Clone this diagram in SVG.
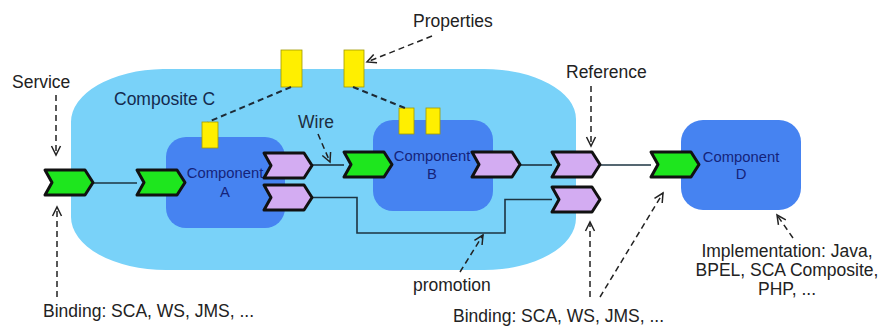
<svg xmlns="http://www.w3.org/2000/svg" width="880" height="327" viewBox="0 0 880 327">
<defs>
<style>
.lbl{font-family:"Liberation Sans",Arial,sans-serif;font-size:17.5px;fill:#222}
.cl{font-family:"Liberation Sans",Arial,sans-serif;font-size:14.8px;fill:#15237a;text-anchor:middle}
.comp{fill:#4683f1}
.svc{fill:#1ee61e;stroke:#111;stroke-width:3;stroke-linejoin:round}
.ref{fill:#d3acf2;stroke:#111;stroke-width:3;stroke-linejoin:round}
.prop{fill:#ffef00;stroke:#a09a00;stroke-width:0.8}
.wire{fill:none;stroke:#1d3442;stroke-width:1.6}
.dash{fill:none;stroke:#222;stroke-width:1.5;stroke-dasharray:6 4}
.pdash{fill:none;stroke:#1d2a36;stroke-width:2;stroke-dasharray:6 4}
</style>
<path id="chev" d="M0,0 H40 L48,12.5 L40,25 H0 L7,12.5 Z"/>
<marker id="arr" viewBox="-10 -6 12 12" refX="0" refY="0" markerWidth="12" markerHeight="12" markerUnits="userSpaceOnUse" orient="auto">
<path d="M-9,-4.5 L0,0 L-9,4.5" fill="none" stroke="#222" stroke-width="1.5"/>
</marker>
</defs>

<g id="compositeC">
<path d="M163,69 H484 A92,50 0 0 1 576,119 V218 A92,52 0 0 1 484,270 H166 A95,53 0 0 1 71,217 V122 A95,53 0 0 1 163,69 Z" fill="#79d2f9"/>
<text class="lbl" x="114" y="105" style="fill:#142a4e">Composite C</text>
<rect class="prop" x="281" y="50" width="21" height="37"/>
<rect class="prop" x="344" y="50" width="20" height="37"/>
</g>

<g id="componentA">
<rect class="comp" x="166" y="137" width="119" height="91" rx="20" ry="20"/>
<rect class="prop" x="202" y="122" width="16" height="26"/>
<text class="cl" x="225" y="178">Component</text>
<text class="cl" x="225" y="197">A</text>
</g>

<g id="componentB">
<rect class="comp" x="373" y="120" width="120" height="91" rx="20" ry="20"/>
<rect class="prop" x="399" y="108" width="15" height="26"/>
<rect class="prop" x="426" y="108" width="14" height="26"/>
<text class="cl" x="432" y="161">Component</text>
<text class="cl" x="432" y="179">B</text>
</g>

<g id="componentD">
<rect class="comp" x="681" y="120" width="120" height="90" rx="22" ry="22"/>
<text class="cl" x="741" y="162">Component</text>
<text class="cl" x="741" y="179">D</text>
</g>

<g id="connectors">
<path class="wire" d="M93,183 H137"/>
<path class="wire" d="M312,165 H344"/>
<path class="wire" d="M520,165 H552"/>
<path class="wire" d="M600,165 H651"/>
<path class="wire" d="M312,197.5 H357 V233 H505 V199.5 H552"/>
<path class="pdash" d="M291,87 L208,122"/>
<path class="pdash" d="M353,87 L405,108"/>
</g>

<g id="ports">
<use href="#chev" class="svc" x="45" y="170"/>
<use href="#chev" class="svc" x="137" y="170"/>
<use href="#chev" class="ref" x="264" y="153"/>
<use href="#chev" class="ref" x="264" y="185"/>
<use href="#chev" class="svc" x="344" y="152"/>
<use href="#chev" class="ref" x="472" y="152"/>
<use href="#chev" class="ref" x="552" y="152"/>
<use href="#chev" class="ref" x="552" y="187"/>
<use href="#chev" class="svc" x="651" y="152"/>
</g>

<g id="annotations">
<path class="dash" d="M56,95 L56,155" marker-end="url(#arr)"/>
<path class="dash" d="M57,297 L57,207" marker-end="url(#arr)"/>
<path class="dash" d="M432,36 L367,62" marker-end="url(#arr)"/>
<path class="dash" d="M318,134 L330,162" marker-end="url(#arr)"/>
<path class="dash" d="M591,86 L591,146" marker-end="url(#arr)"/>
<path class="dash" d="M460,272 L483,235" marker-end="url(#arr)"/>
<path class="dash" d="M590,297 L590,222" marker-end="url(#arr)"/>
<path class="dash" d="M600,297 L663,193" marker-end="url(#arr)"/>
<path class="dash" d="M793,238 L777,215" marker-end="url(#arr)"/>
<text class="lbl" x="12" y="88">Service</text>
<text class="lbl" x="413" y="27">Properties</text>
<text class="lbl" x="298" y="128" style="fill:#1d2e3e">Wire</text>
<text class="lbl" x="566" y="78">Reference</text>
<text class="lbl" x="413" y="291">promotion</text>
<text class="lbl" x="43" y="317">Binding: SCA, WS, JMS, ...</text>
<text class="lbl" x="453" y="322">Binding: SCA, WS, JMS, ...</text>
<text class="lbl" x="787" y="257" text-anchor="middle">Implementation: Java,</text>
<text class="lbl" x="787" y="276" text-anchor="middle">BPEL, SCA Composite,</text>
<text class="lbl" x="787" y="295" text-anchor="middle">PHP, ...</text>
</g>
</svg>
